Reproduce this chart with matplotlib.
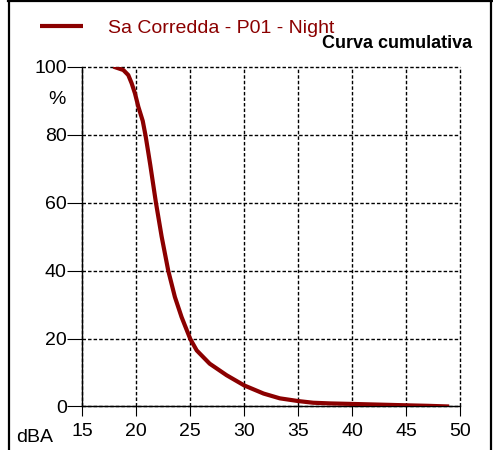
import matplotlib
matplotlib.use('Agg')
import matplotlib.pyplot as plt

plt.rcParams['font.family'] = ['Liberation Sans', 'DejaVu Sans']

# curva cumulativa (dBA, %)
livello = [17.87, 18.8, 19.26, 19.57, 19.88, 20.19, 20.6, 20.87, 21.1, 21.3,
           21.82, 22.35, 22.96, 23.58, 24.2, 25.0, 25.6, 26.8, 28.37, 30.0,
           31.8, 33.3, 35.0, 36.4, 38.0, 40.0, 42.5, 45.0, 47.0, 49.0]
percentuale = [100, 99, 97.5, 95.1, 92.1, 88.2, 84.0, 79.5, 75.0, 71.0,
               60, 50, 40, 32.2, 26.3, 19.9, 16.5, 12.6, 9.2, 6.2,
               3.8, 2.4, 1.6, 1.1, 0.9, 0.75, 0.55, 0.35, 0.2, 0.0]
serie = 'Sa Corredda - P01 - Night'
x_ticks = [15, 20, 25, 30, 35, 40, 45, 50]
y_ticks = [0, 20, 40, 60, 80, 100]

colore = '#8b0000'

fig = plt.figure(figsize=(4.93, 4.5), dpi=100)

# cornice esterna (sinistra, destra, alto) in coordinate pixel
ax_bg = fig.add_axes([0, 0, 1, 1], zorder=-1)
ax_bg.set_xlim(0, 493)
ax_bg.set_ylim(450, 0)
ax_bg.axis('off')
ax_bg.axvline(8.5, color='black', linewidth=1.6)
ax_bg.axvline(491.3, color='black', linewidth=1.6)
ax_bg.axhline(1.2, xmin=8 / 493, xmax=492 / 493, color='black', linewidth=1.6)

ax = fig.add_axes([0.167, 0.0967, 0.766, 0.7553])

ax.plot(livello, percentuale, color=colore, linewidth=3, label=serie,
        solid_capstyle='butt', solid_joinstyle='round', zorder=3)

ax.set_xlim(15, 50)
ax.set_ylim(0, 100)
ax.set_xticks(x_ticks)
ax.set_yticks(y_ticks)

# griglia tratteggiata (non tagliata ai bordi)
ax.grid(True, color='black', linewidth=1, linestyle=(0, (2.5, 1.5)))
for gl in ax.get_xgridlines() + ax.get_ygridlines():
    gl.set_clip_on(False)
ax.spines['top'].set_visible(False)
ax.spines['right'].set_visible(False)
ax.spines['left'].set_linewidth(1)
ax.spines['bottom'].set_linewidth(1)

ax.tick_params(axis='x', direction='out', length=7.2, width=0.8, pad=5, labelsize=14)
ax.tick_params(axis='y', direction='out', length=10.8, width=0.8, pad=0.5, labelsize=14)

fig.text(57 / 493, 1 - 100 / 450, '%', ha='center', va='center', fontsize=14)
fig.text(35 / 493, 1 - 437 / 450, 'dBA', ha='center', va='center', fontsize=14)
fig.text(472 / 493, 1 - 48 / 450, 'Curva cumulativa', ha='right', va='baseline',
         fontsize=13, fontweight='bold')

leg = fig.legend(loc='center left', bbox_to_anchor=(40 / 493, 1 - 28 / 450),
                 frameon=False, fontsize=14, handlelength=2.2, handletextpad=1.3,
                 borderpad=0, borderaxespad=0)
for t in leg.get_texts():
    t.set_color(colore)

fig.savefig('out.png', dpi=100)
